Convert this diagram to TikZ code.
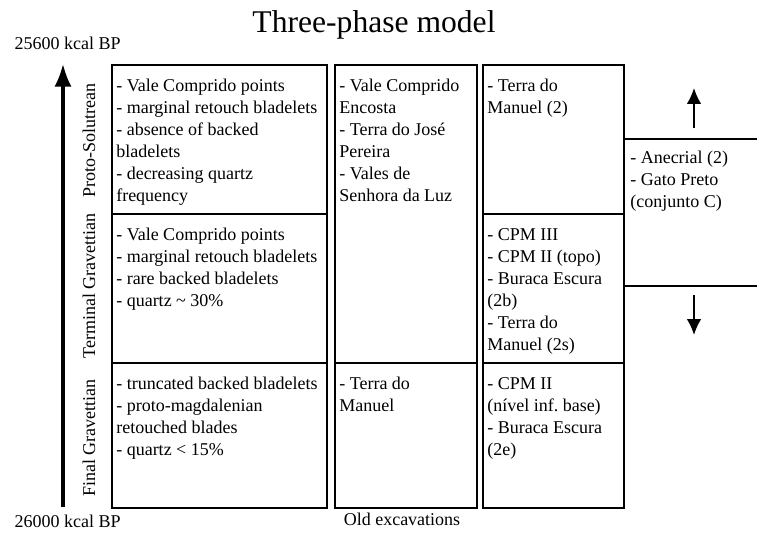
\documentclass[tikz,border=0pt]{standalone}
\usepackage{fontspec}
\setmainfont{Liberation Serif}
\usetikzlibrary{arrows.meta}

\begin{document}
\begin{tikzpicture}[
  x=0.75pt, y=-0.75pt,
  >=Latex,
  cell/.style 2 args={draw, line width=1.3pt, anchor=north west, inner sep=0pt,
    minimum width=#1*0.75pt, minimum height=#2*0.75pt},
  entry/.style={anchor=north west, inner sep=0pt, align=left,
    font=\fontsize{13.5}{16.5}\selectfont},
  phase/.style={rotate=90, font=\fontsize{13.5}{16}\selectfont},
  plain/.style={font=\fontsize{13.5}{16}\selectfont},
  age/.style={plain, anchor=base west},
  timeline/.style={line width=2.4pt, -{Latex[length=17pt,width=13pt]}},
  trend/.style={line width=1.3pt, -{Latex[length=12pt,width=11pt]}}
]
  \useasboundingbox (0,0) rectangle (757,535);

  \node[anchor=base, font=\fontsize{23.7}{28}\selectfont] (title) at (374,33) {Three-phase model};

  % time axis
  \coordinate (young) at (63,64);
  \coordinate (old) at (63,507);
  \draw[timeline] (old) -- (young);
  \node[age] (ageyoung) at (10,50) {25600 kcal BP};
  \node[age] (ageold) at (10,527) {26000 kcal BP};

  \node[phase] (ps) at (89,141) {Proto-Solutrean};
  \node[phase] (tg) at (89,286) {Terminal Gravettian};
  \node[phase] (fg) at (89,438) {Final Gravettian};

  % characteristics
  \node[cell={215}{149}] (ps1) at (111,64) {};
  \node[cell={215}{149}] (tg1) at (111,213) {};
  \node[cell={215}{145}] (fg1) at (111,362) {};
  \node[entry] at ([shift={(5,15)}]ps1.north west) {- Vale Comprido points\\- marginal retouch bladelets\\- absence of backed\\bladelets\\- decreasing quartz\\frequency};
  \node[entry] at ([shift={(5,15)}]tg1.north west) {- Vale Comprido points\\- marginal retouch bladelets\\- rare backed bladelets\\- quartz \textasciitilde{} 30\%};
  \node[entry] at ([shift={(5,15)}]fg1.north west) {- truncated backed bladelets\\- proto-magdalenian\\retouched blades\\- quartz < 15\%};

  % old excavations
  \node[cell={142}{298}] (ps2) at (334,64) {};
  \node[cell={142}{145}] (fg2) at (334,362) {};
  \node[entry] at ([shift={(5,15)}]ps2.north west) {- Vale Comprido\\Encosta\\- Terra do Jos\'e\\Pereira\\- Vales de\\Senhora da Luz};
  \node[entry] at ([shift={(5,15)}]fg2.north west) {- Terra do\\Manuel};
  \node[plain, anchor=base] (oldexc) at (402,525) {Old excavations};

  % recent sites
  \node[cell={141}{149}] (ps3) at (482,64) {};
  \node[cell={141}{149}] (tg3) at (482,213) {};
  \node[cell={141}{145}] (fg3) at (482,362) {};
  \node[entry] at ([shift={(5,15)}]ps3.north west) {- Terra do\\Manuel (2)};
  \node[entry] at ([shift={(5,15)}]tg3.north west) {- CPM III\\- CPM II (topo)\\- Buraca Escura\\(2b)\\- Terra do\\Manuel (2s)};
  \node[entry] at ([shift={(5,15)}]fg3.north west) {- CPM II\\(n\'ivel inf.\ base)\\- Buraca Escura\\(2e)};

  % undetermined band
  \coordinate (bandtop) at (757,139);
  \coordinate (bandbot) at (757,286);
  \draw[line width=1.3pt] (ps3.north east |- bandtop) -- (bandtop);
  \draw[line width=1.3pt] (ps3.north east |- bandbot) -- (bandbot);
  \node[entry] (band) at (630,151) {- Anecrial (2)\\- Gato Preto\\(conjunto C)};
  \coordinate (upfrom) at (694,128);
  \coordinate (upto) at (694,88);
  \coordinate (downfrom) at (694,295);
  \coordinate (downto) at (694,335);
  \draw[trend] (upfrom) -- (upto);
  \draw[trend] (downfrom) -- (downto);
\end{tikzpicture}
\end{document}
